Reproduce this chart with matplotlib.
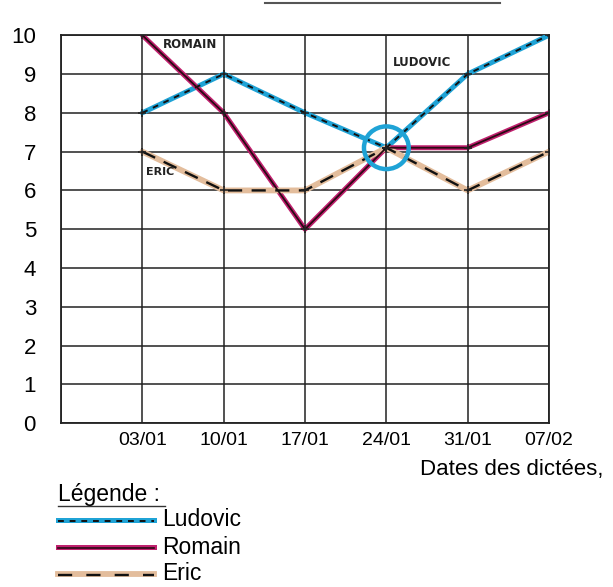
import matplotlib
matplotlib.use("Agg")
import matplotlib.pyplot as plt
from matplotlib.lines import Line2D
from matplotlib.patches import Ellipse

plt.rcParams['font.family'] = ['Liberation Sans', 'DejaVu Sans']

dates = ["03/01", "10/01", "17/01", "24/01", "31/01", "07/02"]
ludovic = [8, 9, 8, 7.1, 9, 10]
romain = [10, 8, 5, 7.1, 7.1, 8]
eric = [7, 6, 6, 7.1, 6, 7]
yticks = list(range(0, 11))

c_lud = "#1fa3d6"
c_rom = "#c0206e"
c_eri = "#e3bd9c"

fig = plt.figure(figsize=(6.13, 5.87), dpi=100)
ax = fig.add_axes([0.0995, 0.279, 0.7961, 0.661])
xs = list(range(1, len(dates) + 1))

ax.set_xlim(0, 6)
ax.set_ylim(0, 10)
for v in range(0, 7):
    ax.axvline(v, color="#222222", lw=1.1, zorder=1)
for v in yticks:
    ax.axhline(v, color="#222222", lw=1.1, zorder=1)

# Ludovic
ax.plot(xs, ludovic, color=c_lud, lw=3.6, solid_capstyle="round", zorder=3)
ax.plot(xs, ludovic, color="#111111", lw=1.4, ls=(0, (3, 3)), zorder=4)
# Romain
ax.plot(xs, romain, color=c_rom, lw=3.6, solid_capstyle="round", zorder=3)
ax.plot(xs, romain, color="#2a0a14", lw=1.3, zorder=4)
# Eric
ax.plot(xs, eric, color=c_eri, lw=4.2, solid_capstyle="round", zorder=3)
ax.plot(xs, eric, color="#111111", lw=1.7, ls=(0, (6, 4)), zorder=4)

for series in (ludovic, romain, eric):
    ax.plot(xs, series, ls="none", marker="+", ms=6, mew=1.2, color="#222222", zorder=5)

ax.add_patch(Ellipse((4, 7.1), 0.55, 1.1, fill=False, ec=c_lud, lw=3.2, zorder=6))

ax.text(1.25, 9.75, "ROMAIN", fontsize=8.5, fontfamily="DejaVu Sans", color="#222222",
        fontweight="bold", va="center", zorder=7)
ax.text(4.08, 9.3, "LUDOVIC", fontsize=8.5, fontfamily="DejaVu Sans", color="#222222",
        fontweight="bold", va="center", zorder=7)
ax.text(1.05, 6.47, "ERIC", fontsize=8, fontfamily="DejaVu Sans", color="#222222",
        fontweight="bold", va="center", zorder=7)

ax.set_xticks(xs)
ax.set_xticklabels(dates, fontsize=14)
ax.set_yticks(yticks)
ax.set_yticklabels([str(v) for v in yticks], fontsize=16)
ax.tick_params(length=0, pad=6)
ax.tick_params(axis="y", pad=18)
for s in ax.spines.values():
    s.set_color("#222222")
    s.set_linewidth(1.3)

fig.text(0.685, 0.2, "Dates des dictées,", fontsize=16, va="center")

# top title underline (cut off)
fig.add_artist(Line2D([265 / 613, 500 / 613], [1 - 3 / 587, 1 - 3 / 587], color="#555555", lw=1.5))

# Legend
fig.text(58 / 613, 1 - 494 / 587, "Légende :", fontsize=16.5, va="center")
fig.add_artist(Line2D([58 / 613, 165 / 613], [1 - 506 / 587, 1 - 506 / 587], color="#333333", lw=1))
entries = [("Ludovic", c_lud, "#111111", (0, (3, 3)), 3.6, 1.4),
           ("Romain", c_rom, "#2a0a14", "-", 3.6, 1.2),
           ("Eric", c_eri, "#111111", (0, (6, 6)), 4.2, 1.7)]
for i, (name, c, c2, ls, lw1, lw2) in enumerate(entries):
    y = 1 - (520 + 27 * i) / 587
    fig.add_artist(Line2D([58 / 613, 154 / 613], [y, y], color=c, lw=lw1))
    fig.add_artist(Line2D([58 / 613, 154 / 613], [y - 0.002, y - 0.002], color=c2, lw=lw2, ls=ls))
    fig.text(162 / 613, y, name, fontsize=16.5, va="center")

fig.savefig("out.png", dpi=100)
